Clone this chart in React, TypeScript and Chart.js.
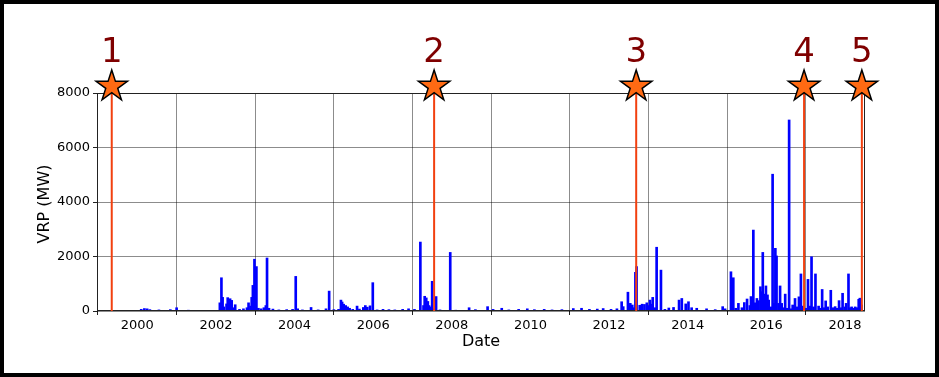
import React, { useEffect, useRef } from "react";
import { Chart, registerables } from "chart.js";

Chart.register(...registerables);

// VRP (MW) daily observations: decimal year and value
const vrpDates: number[] = [
  2000.10, 2000.18, 2000.25, 2000.32, 2000.55, 2000.84, 2001.00, 2001.30, 2001.70,
  2002.10, 2002.14, 2002.17, 2002.20, 2002.27, 2002.30, 2002.33, 2002.36, 2002.40, 2002.44, 2002.49,
  2002.60, 2002.70, 2002.79, 2002.83, 2002.88, 2002.91, 2002.94, 2002.98, 2003.03, 2003.08,
  2003.15, 2003.22, 2003.27, 2003.30, 2003.35, 2003.45, 2003.60, 2003.80, 2003.95,
  2004.03, 2004.08, 2004.20, 2004.42, 2004.60, 2004.80, 2004.88,
  2005.00, 2005.12, 2005.18, 2005.21, 2005.25, 2005.30, 2005.35, 2005.40, 2005.48, 2005.59,
  2005.65, 2005.75, 2005.80, 2005.85, 2005.92, 2005.99,
  2006.10, 2006.25, 2006.40, 2006.55, 2006.75, 2006.90,
  2007.05, 2007.20, 2007.28, 2007.31, 2007.35, 2007.39, 2007.42, 2007.46, 2007.50, 2007.55, 2007.60, 2007.70, 2007.96,
  2008.10, 2008.44, 2008.60, 2008.91, 2009.05, 2009.27, 2009.45, 2009.70, 2009.92,
  2010.10, 2010.35, 2010.55, 2010.80, 2011.09, 2011.30, 2011.50, 2011.70, 2011.85,
  2012.05, 2012.20, 2012.32, 2012.36, 2012.48, 2012.54, 2012.59, 2012.62, 2012.67, 2012.70,
  2012.78, 2012.84, 2012.90, 2012.96, 2013.00, 2013.04, 2013.08, 2013.11, 2013.16, 2013.21, 2013.32,
  2013.42, 2013.52, 2013.64, 2013.78, 2013.85, 2013.95, 2014.02, 2014.10, 2014.23, 2014.48, 2014.70,
  2014.89, 2014.95, 2015.10, 2015.16, 2015.22, 2015.29, 2015.38, 2015.44, 2015.51, 2015.58, 2015.61,
  2015.67, 2015.72, 2015.76, 2015.80, 2015.85, 2015.88, 2015.91, 2015.95, 2015.99,
  2016.03, 2016.06, 2016.11, 2016.16, 2016.20, 2016.23, 2016.26, 2016.31, 2016.35, 2016.39, 2016.44,
  2016.48, 2016.53, 2016.58, 2016.63, 2016.67, 2016.73, 2016.78, 2016.83, 2016.88, 2016.94,
  2017.00, 2017.06, 2017.11, 2017.15, 2017.20, 2017.25, 2017.33, 2017.38, 2017.42, 2017.47, 2017.51,
  2017.56, 2017.64, 2017.70, 2017.75, 2017.80, 2017.85, 2017.90, 2017.94,
  2018.00, 2018.03, 2018.09, 2018.13, 2018.17, 2018.22, 2018.26, 2018.30, 2018.35, 2018.38, 2018.42,
];

const vrpValues: number[] = [
  60, 90, 80, 50, 40, 50, 120, 30, 20,
  300, 1220, 500, 150, 260, 490, 420, 450, 390, 120, 230,
  60, 80, 120, 300, 180, 500, 940, 1900, 1630, 100,
  80, 120, 200, 1945, 100, 70, 40, 50, 60,
  1270, 80, 40, 130, 40, 80, 730,
  50, 60, 400, 330, 250, 200, 150, 100, 60, 180,
  70, 130, 200, 140, 190, 1040,
  40, 60, 50, 40, 60, 80,
  60, 2530, 200, 540, 480, 350, 200, 150, 1090, 80, 530, 40, 2150,
  30, 120, 50, 160, 60, 100, 40, 60, 80,
  50, 60, 40, 50, 90, 100, 60, 70, 90,
  60, 80, 340, 160, 690, 280, 220, 120, 1420, 1630,
  210, 250, 240, 300, 200, 400, 250, 500, 120, 2340, 1500,
  60, 110, 130, 400, 460, 260, 340, 120, 100, 80, 50,
  160, 80, 1440, 1220, 100, 280, 120, 310, 440, 200, 530,
  2970, 300, 460, 380, 890, 710, 2150, 620, 920,
  590, 400, 150, 5020, 280, 2300, 2020, 280, 920, 280, 120,
  620, 100, 7010, 80, 220, 460, 150, 520, 1360, 180,
  100, 1160, 180, 1990, 150, 1360, 180, 100, 790, 120, 370,
  150, 760, 120, 160, 100, 380, 120, 650,
  150, 280, 1360, 120, 150, 100, 150, 120, 430, 470, 220,
];

// Numbered events (decimal year)
const eventDates: number[] = [1999.35, 2007.55, 2012.69, 2016.96, 2018.43];
const eventLabels: string[] = ["1", "2", "3", "4", "5"];
const eventMarkerLevel = 8240;

const xTickYears: number[] = [2000, 2002, 2004, 2006, 2008, 2010, 2012, 2014, 2016, 2018];
const yTickValues: number[] = [0, 2000, 4000, 6000, 8000];
const xMin = 1998.975;
const xMax = 2018.51;
const yMin = 0;
const yMax = 8000;

const FONT = '"DejaVu Sans", "Liberation Sans", sans-serif';

function starPath(ctx: CanvasRenderingContext2D, cx: number, cy: number, R: number, r: number) {
  ctx.beginPath();
  for (let i = 0; i < 10; i++) {
    const rad = i % 2 === 0 ? R : r;
    const a = -Math.PI / 2 + (i * Math.PI) / 5;
    const px = cx + rad * Math.cos(a);
    const py = cy + rad * Math.sin(a);
    if (i === 0) ctx.moveTo(px, py);
    else ctx.lineTo(px, py);
  }
  ctx.closePath();
}

const overlayPlugin = {
  id: "overlay",
  afterDatasetsDraw(chart: any) {
    const { ctx, chartArea, scales } = chart;
    const x = scales.x;
    const y = scales.y;
    ctx.save();
    // frame
    ctx.strokeStyle = "#222";
    ctx.lineWidth = 1;
    ctx.strokeRect(
      Math.round(chartArea.left) + 0.5,
      Math.round(chartArea.top) + 0.5,
      Math.round(chartArea.right - chartArea.left) - 1,
      Math.round(chartArea.bottom - chartArea.top) - 1
    );
    // event lines, stars, labels
    const y0 = y.getPixelForValue(0);
    const ys = y.getPixelForValue(eventMarkerLevel);
    eventDates.forEach((d, i) => {
      const px = x.getPixelForValue(d);
      ctx.strokeStyle = "#f2400f";
      ctx.lineWidth = 2;
      ctx.beginPath();
      ctx.moveTo(px, y0);
      ctx.lineTo(px, ys);
      ctx.stroke();
      starPath(ctx, px, ys, 16.5, 16.5 * 0.382);
      ctx.fillStyle = "#ff6a13";
      ctx.fill();
      ctx.strokeStyle = "#000";
      ctx.lineWidth = 1.5;
      ctx.lineJoin = "miter";
      ctx.stroke();
      ctx.fillStyle = "#7f0000";
      ctx.font = `34px ${FONT}`;
      ctx.textAlign = "center";
      ctx.textBaseline = "alphabetic";
      ctx.fillText(eventLabels[i], px, ys - 24.5);
    });
    // axis titles
    ctx.fillStyle = "#000";
    ctx.font = `16px ${FONT}`;
    ctx.textAlign = "center";
    ctx.textBaseline = "middle";
    ctx.fillText("Date", (chartArea.left + chartArea.right) / 2, chartArea.bottom + 31);
    ctx.save();
    ctx.translate(41, (chartArea.top + chartArea.bottom) / 2 + 2);
    ctx.rotate(-Math.PI / 2);
    ctx.fillText("VRP (MW)", 0, 0);
    ctx.restore();
    ctx.restore();
  },
};

export default function App() {
  const canvasRef = useRef<HTMLCanvasElement | null>(null);

  useEffect(() => {
    document.body.style.margin = "0";
    const canvas = canvasRef.current;
    if (!canvas) return;
    const points = vrpDates.map((d, i) => ({ x: d, y: vrpValues[i] }));
    const baseline = [
      { x: vrpDates[0], y: 0 },
      { x: vrpDates[vrpDates.length - 1], y: 0 },
    ];
    const chart = new Chart(canvas, {
      type: "bar",
      data: {
        datasets: [
          {
            type: "bar",
            data: points as any,
            backgroundColor: "#0000ff",
            borderWidth: 0,
            barThickness: 2,
            grouped: false,
          } as any,
          {
            type: "line",
            data: baseline as any,
            borderColor: "#0000ff",
            borderWidth: 2,
            pointRadius: 0,
          } as any,
        ],
      },
      options: {
        responsive: false,
        animation: false,
        devicePixelRatio: 1,
        layout: { padding: { top: 89, right: 70, left: 0, bottom: 0 } },
        plugins: { legend: { display: false }, tooltip: { enabled: false } },
        scales: {
          x: {
            type: "linear",
            min: xMin,
            max: xMax,
            offset: false,
            afterBuildTicks: (scale: any) => {
              scale.ticks = xTickYears.map((v) => ({ value: v }));
            },
            afterFit: (scale: any) => {
              scale.height = 62;
            },
            grid: { color: "rgba(0,0,0,0.45)", tickColor: "#222", tickLength: 4, lineWidth: 1 },
            border: { display: false },
            ticks: {
              color: "#000",
              font: { family: FONT, size: 13 },
              padding: 3,
              maxRotation: 0,
              autoSkip: false,
              callback: (v: any) => String(v),
            },
          },
          y: {
            type: "linear",
            min: yMin,
            max: yMax,
            afterBuildTicks: (scale: any) => {
              scale.ticks = yTickValues.map((v) => ({ value: v }));
            },
            afterFit: (scale: any) => {
              scale.width = 93;
            },
            grid: { color: "rgba(0,0,0,0.45)", tickColor: "#222", tickLength: 4, lineWidth: 1 },
            border: { display: false },
            ticks: {
              color: "#000",
              font: { family: FONT, size: 13 },
              padding: 3,
              autoSkip: false,
              callback: (v: any) => String(v),
            },
          },
        },
      },
      plugins: [overlayPlugin],
    });
    return () => chart.destroy();
  }, []);

  return (
    <div
      style={{
        position: "fixed",
        left: 0,
        top: 0,
        width: 939,
        height: 377,
        border: "4px solid #000",
        boxSizing: "border-box",
        background: "#fff",
      }}
    >
      <canvas ref={canvasRef} width={931} height={369} style={{ display: "block", width: 931, height: 369 }} />
    </div>
  );
}
